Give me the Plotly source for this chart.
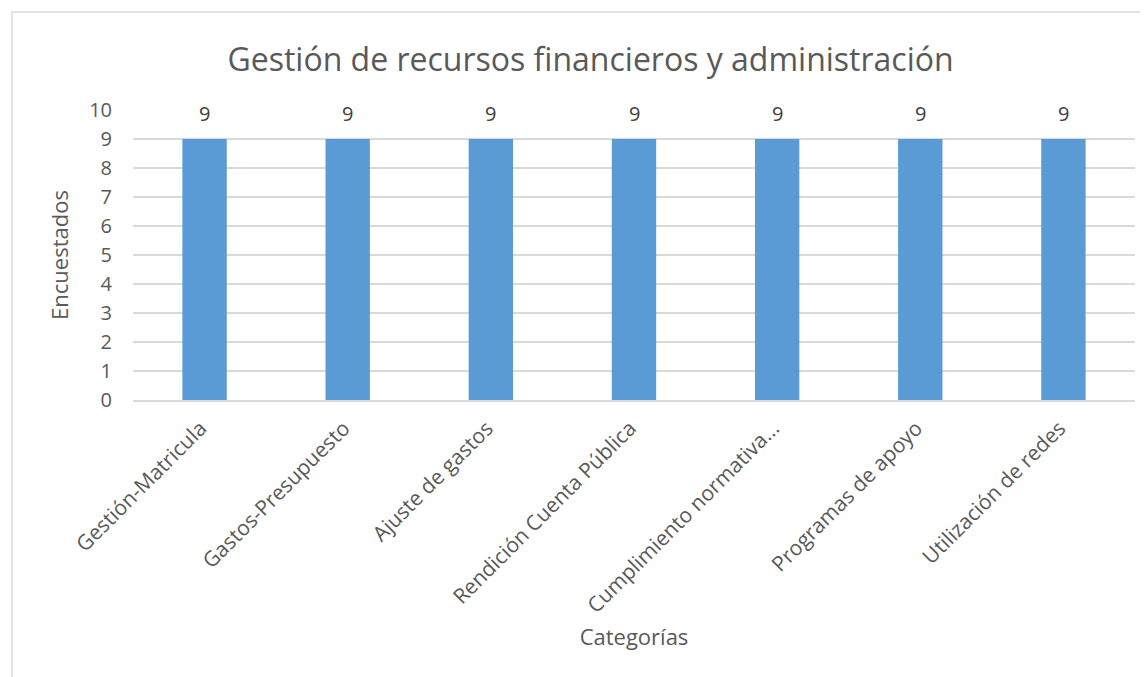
import plotly.graph_objects as go

categories = [
    "Gestión-Matricula",
    "Gastos-Presupuesto",
    "Ajuste de gastos",
    "Rendición Cuenta Pública",
    "Cumplimiento normativa...",
    "Programas de apoyo",
    "Utilización de redes",
]
encuestados = [9, 9, 9, 9, 9, 9, 9]
y_ticks = [0, 1, 2, 3, 4, 5, 6, 7, 8, 9, 10]

font_family = "Open Sans, DejaVu Sans, sans-serif"
text_color = "#595959"
grid_color = "#d9d9d9"

fig = go.Figure()

fig.add_trace(
    go.Bar(
        x=categories,
        y=encuestados,
        marker=dict(color="#5b9bd5", line=dict(width=0)),
        showlegend=False,
    )
)

# data labels sit high above the bars, as in the Excel original
for cat, val in zip(categories, encuestados):
    fig.add_annotation(
        x=cat,
        y=val,
        text=str(val),
        showarrow=False,
        yanchor="middle",
        yshift=26,
        font=dict(size=20, color="#404040", family=font_family),
    )

# chart border
fig.add_shape(
    type="rect",
    xref="paper",
    yref="paper",
    x0=-0.1208,
    x1=1.2,
    y0=-1.2,
    y1=1.338,
    line=dict(color=grid_color, width=1.5),
    fillcolor="rgba(0,0,0,0)",
    layer="below",
)

fig.update_layout(
    width=1140,
    height=669,
    margin=dict(l=125, r=13, t=102, b=277),
    paper_bgcolor="white",
    plot_bgcolor="white",
    bargap=0.69,
    font=dict(family=font_family, color=text_color),
    title=dict(
        text="Gestión de recursos financieros y administración",
        font=dict(size=32, color=text_color, family=font_family),
        x=0.511,
        xanchor="center",
        y=0.922,
        yanchor="middle",
    ),
    xaxis=dict(
        type="category",
        tickangle=-45,
        tickfont=dict(size=21, color=text_color),
        ticks="",
        ticklabelstandoff=6,
        ticklabelshift=-4,
        showgrid=False,
        showline=True,
        linecolor=grid_color,
        linewidth=1.5,
        title=dict(
            text="Categorías",
            font=dict(size=22, color=text_color),
            standoff=12,
        ),
    ),
    yaxis=dict(
        range=[0, 10],
        tickvals=y_ticks,
        tickfont=dict(size=20, color=text_color),
        ticks="",
        ticklabelstandoff=20,
        showgrid=True,
        gridcolor=grid_color,
        gridwidth=1.5,
        zeroline=False,
        showline=False,
        title=dict(
            text="Encuestados",
            font=dict(size=22, color=text_color),
            standoff=14,
        ),
    ),
)

fig.write_html("out.html")
